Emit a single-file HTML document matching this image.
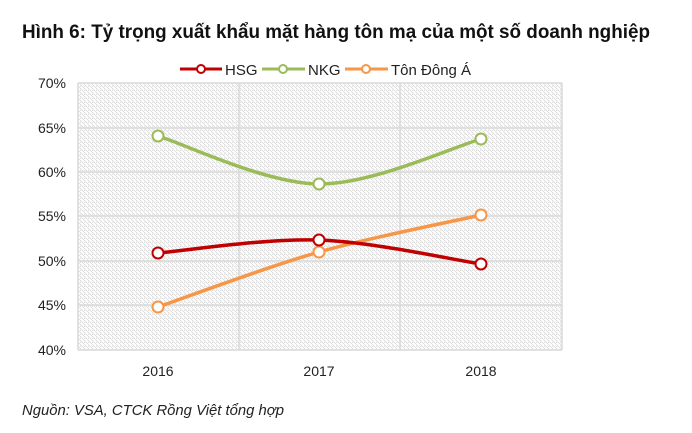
<!DOCTYPE html>
<html><head><meta charset="utf-8"><style>body{margin:0;background:#fff}svg{display:block}</style></head><body>
<svg width="692" height="433" xmlns="http://www.w3.org/2000/svg" font-family="Liberation Sans, sans-serif">
<defs><pattern id="h" width="4" height="4" patternUnits="userSpaceOnUse"><path d="M-1,1 l2,2 M0,0 l4,4 M3,-1 l2,2" stroke="#d4d4d4" stroke-width="0.7"/></pattern></defs>
<text x="22" y="38" font-size="19" font-weight="bold" fill="#111" textLength="628" lengthAdjust="spacingAndGlyphs">Hình 6: Tỷ trọng xuất khẩu mặt hàng tôn mạ của một số doanh nghiệp</text>
<g stroke-width="3"><line x1="180" y1="69" x2="222" y2="69" stroke="#c00000"/><circle cx="201" cy="69" r="4" fill="#fff" stroke="#c00000" stroke-width="2"/>
<line x1="262" y1="69" x2="305" y2="69" stroke="#9bbb59"/><circle cx="283" cy="69" r="4" fill="#fff" stroke="#9bbb59" stroke-width="2"/>
<line x1="345" y1="69" x2="388" y2="69" stroke="#f79646"/><circle cx="366" cy="69" r="4" fill="#fff" stroke="#f79646" stroke-width="2"/></g>
<g font-size="15" fill="#222"><text x="225" y="75">HSG</text><text x="308" y="75">NKG</text><text x="391" y="75">Tôn Đông Á</text></g>
<rect x="78" y="83" width="484" height="267" fill="url(#h)"/>
<g stroke="#d9d9d9" stroke-width="1.5"><line x1="78" y1="83" x2="562" y2="83"/><line x1="78" y1="128" x2="562" y2="128"/><line x1="78" y1="172" x2="562" y2="172"/><line x1="78" y1="216" x2="562" y2="216"/><line x1="78" y1="261" x2="562" y2="261"/><line x1="78" y1="305" x2="562" y2="305"/><line x1="78" y1="350" x2="562" y2="350"/>
<line x1="78" y1="83" x2="78" y2="350"/><line x1="239" y1="83" x2="239" y2="350"/><line x1="400" y1="83" x2="400" y2="350"/><line x1="562" y1="83" x2="562" y2="350"/></g>
<g font-size="14" fill="#222" text-anchor="end"><text x="66" y="88">70%</text><text x="66" y="133">65%</text><text x="66" y="177">60%</text><text x="66" y="221">55%</text><text x="66" y="266">50%</text><text x="66" y="310">45%</text><text x="66" y="355">40%</text></g>
<g font-size="14" fill="#222" text-anchor="middle"><text x="158" y="376">2016</text><text x="319" y="376">2017</text><text x="481" y="376">2018</text></g>
<g fill="none" stroke-width="3.5">
<path d="M158,136 C184.8,144 265.2,183.5 319,184 C372.8,184.5 454,146.5 481,139" stroke="#9bbb59"/>
<path d="M158,307 C184.8,297.8 265.2,267.3 319,252 C372.8,236.7 454,221.2 481,215" stroke="#f79646"/>
<path d="M158,253 C184.8,250.8 265.2,238.2 319,240 C372.8,241.8 454,260 481,264" stroke="#c00000"/></g>
<g fill="#fff" stroke-width="2">
<circle cx="158" cy="136" r="5.5" stroke="#9bbb59"/><circle cx="319" cy="184" r="5.5" stroke="#9bbb59"/><circle cx="481" cy="139" r="5.5" stroke="#9bbb59"/>
<circle cx="158" cy="307" r="5.5" stroke="#f79646"/><circle cx="319" cy="252" r="5.5" stroke="#f79646"/><circle cx="481" cy="215" r="5.5" stroke="#f79646"/>
<circle cx="158" cy="253" r="5.5" stroke="#c00000"/><circle cx="319" cy="240" r="5.5" stroke="#c00000"/><circle cx="481" cy="264" r="5.5" stroke="#c00000"/></g>
<text x="22" y="415" font-size="15" font-style="italic" fill="#222" textLength="262" lengthAdjust="spacingAndGlyphs">Nguồn: VSA, CTCK Rồng Việt tổng hợp</text>
</svg>
</body></html>
